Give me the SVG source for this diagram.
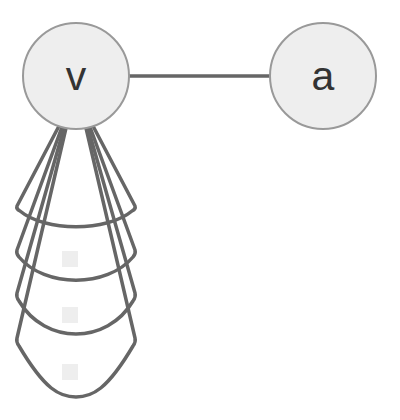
<svg xmlns="http://www.w3.org/2000/svg" width="400" height="420" viewBox="0 0 400 420">
<style>
.node circle{fill:#eeeeee;stroke:#999999;stroke-width:2}
.node text{font-family:"Liberation Sans",Arial,sans-serif;font-size:41px;fill:#333333;text-anchor:middle}
.edge{fill:none;stroke:#666666;stroke-width:3.5;stroke-linejoin:round;stroke-linecap:round}
.lbl{fill:#eeeeee}
</style>
<rect width="400" height="420" fill="#ffffff"/>
<g id="connectors">
<line class="edge" x1="129" y1="76" x2="270" y2="76"/>
<path class="edge" d="M59 126 L17 206 Q16 209 20 211 C45 232 107 232 132 211 Q136 209 135 206 L93 126"/>
<path class="edge" d="M62 127 L17 250 Q16 254 19 257 C45 288 107 288 133 257 Q136 254 135 250 L90 127"/>
<path class="edge" d="M64 128 L17 293 Q16 297 19 301 C45 345 107 345 133 301 Q136 297 135 293 L88 128"/>
<path class="edge" d="M66 128 L17 338 Q16 342 19 346 C45 390 60 397 76 397 C92 397 107 390 133 346 Q136 342 135 338 L86 128"/>
<rect class="lbl" x="62" y="251" width="16" height="16"/>
<rect class="lbl" x="62" y="307" width="16" height="16"/>
<rect class="lbl" x="62" y="364" width="16" height="16"/>
</g>
<g id="node-v" class="node">
<circle cx="76" cy="76" r="53"/>
<text x="76" y="90">v</text>
</g>
<g id="node-a" class="node">
<circle cx="323" cy="76" r="53"/>
<text x="323" y="90">a</text>
</g>
</svg>
